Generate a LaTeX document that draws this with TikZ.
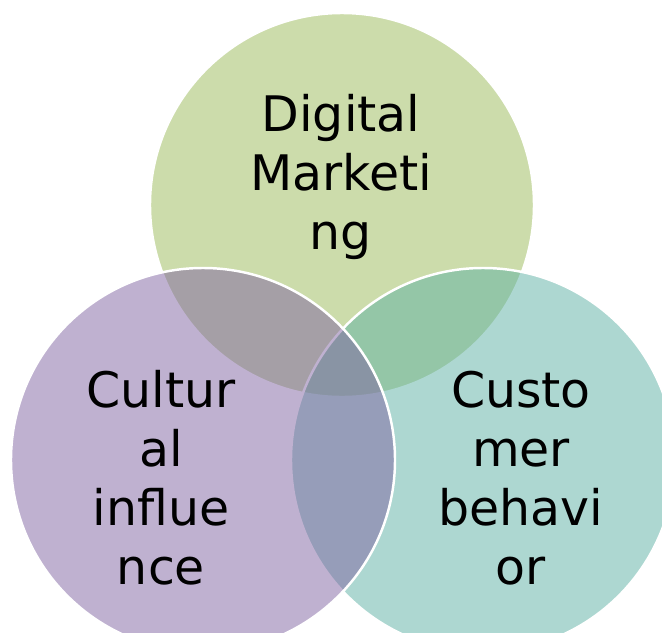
\documentclass[tikz,border=0pt]{standalone}
\usepackage{fontspec}
\setmainfont{DejaVu Sans}
\definecolor{dmgreen}{HTML}{9BBB59}
\definecolor{cipurple}{HTML}{8064A2}
\definecolor{cbteal}{HTML}{5DB1A5}
\tikzset{
  venn/.style={circle, minimum size=11.52cm, inner sep=0pt, draw=white, line width=2.1pt, fill opacity=0.5},
  venntext/.style={align=center, inner sep=0pt, font=\fontsize{41.8}{50.4}\selectfont}
}

\begin{document}
\begin{tikzpicture}[x=0.03cm, y=-0.03cm]
        \useasboundingbox (0,0) rectangle (662,632);
        \clip (0,0) rectangle (662,632);
        \fill[white] (0,0) rectangle (662,632);

        \node[venn, fill=dmgreen] (dm) at (342, 205) {};
        \node[venn, fill=cbteal] (cb) at (483, 460) {};
        \node[venn, fill=cipurple] (ci) at (203, 460) {};

        \node[venntext] (dmtext) at (341, 177) {Digital\\Marketi\\ng};
        \node[venntext] (citext) at (161, 478) {Cultur\\al\\influe\\nce};
        \node[venntext] (cbtext) at (521, 478) {Custo\\mer\\behavi\\or};
      \end{tikzpicture}
\end{document}
